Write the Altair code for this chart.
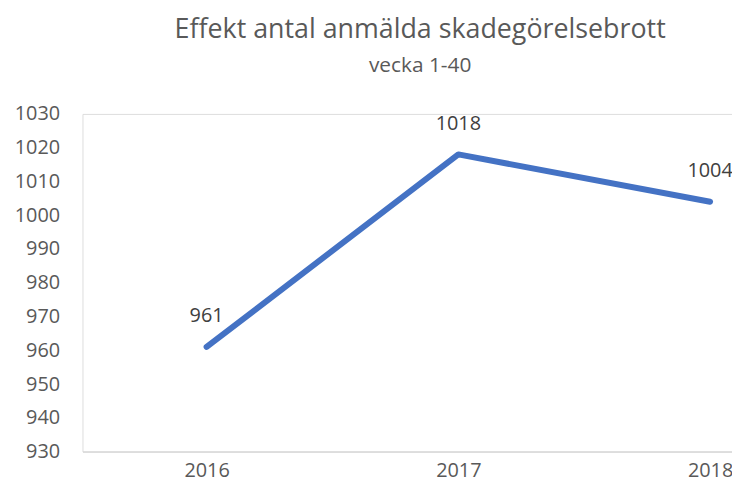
import altair as alt
import pandas as pd

years = [2016, 2017, 2018]
values = [961, 1018, 1004]
y_ticks = list(range(930, 1031, 10))

df = pd.DataFrame({"year": years, "value": values})

FONT = "Open Sans"
AXIS_GRAY = "#595959"

x = alt.X(
    "year:Q",
    scale=alt.Scale(domain=[2015.507, 2018.087], nice=False, zero=False),
    axis=alt.Axis(
        values=years, format="d", title=None, grid=False, ticks=False,
        domainColor="#D9D9D9", domainWidth=1.5,
        labelFont=FONT, labelFontSize=20, labelColor=AXIS_GRAY, labelPadding=9,
        labelFlush=False, labelOverlap=False,
    ),
)
y = alt.Y(
    "value:Q",
    scale=alt.Scale(domain=[930, 1030], nice=False, zero=False),
    axis=alt.Axis(
        values=y_ticks, format="d", title=None, grid=False, ticks=False, domain=False,
        labelFont=FONT, labelFontSize=20, labelColor=AXIS_GRAY, labelPadding=23,
        labelOverlap=False,
    ),
)

base = alt.Chart(df).encode(x=x, y=y)

line = base.mark_line(color="#4472C4", strokeWidth=6, strokeCap="round", strokeJoin="round")
labels = base.mark_text(dy=-31, font=FONT, fontSize=20, color="#404040").encode(
    text=alt.Text("value:Q", format="d")
)

chart = (
    alt.layer(line, labels)
    .properties(
        width=654,
        height=340,
        autosize=alt.AutoSizeParams(type="none"),
        padding={"left": 75, "top": 105, "right": 0, "bottom": 32},
        title=alt.TitleParams(
            text="Effekt antal anmälda skadegörelsebrott",
            subtitle="vecka 1-40",
            anchor="middle",
            dx=13,
            offset=27,
            font=FONT,
            fontSize=27,
            fontWeight="normal",
            color=AXIS_GRAY,
            subtitleFont=FONT,
            subtitleFontSize=21,
            subtitleColor=AXIS_GRAY,
            subtitlePadding=11,
        ),
    )
    .configure_view(stroke="transparent", strokeWidth=0, strokeOpacity=0)
    .configure(background="white")
)

chart.save("out.html", embed_options={"renderer": "svg", "actions": False})
